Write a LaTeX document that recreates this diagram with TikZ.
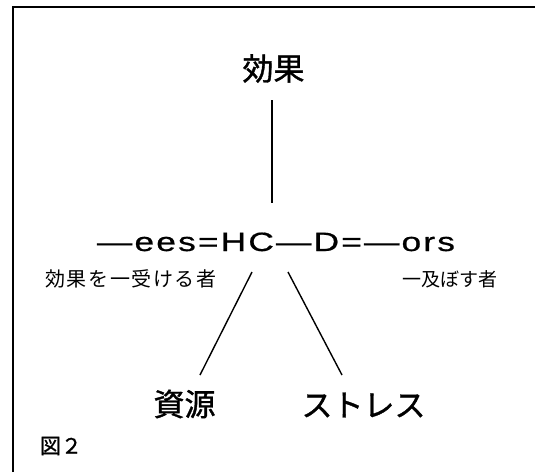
\documentclass[tikz,border=0pt]{standalone}
\usepackage{fontspec}
\setmainfont{Liberation Sans}
\newfontfamily\jp{Noto Sans CJK JP}
\newfontfamily\jpsp[LetterSpace=8]{Noto Sans CJK JP}
\newfontfamily\jpb[FakeBold=1.2]{Noto Sans CJK JP}
\newfontfamily\latinsp[LetterSpace=6,FakeBold=0.6]{Liberation Sans}
\tikzset{
  plain/.style={inner sep=0pt, outer sep=0pt},
  bigjp/.style={plain, font=\jpb\fontsize{31}{31}\selectfont},
  smalljp/.style={plain, font=\jpsp\fontsize{20}{20}\selectfont},
  link/.style={line width=1.4pt},
  frameline/.style={line width=2pt}
}
\begin{document}
\begin{tikzpicture}[x=1pt,y=-1pt]
\useasboundingbox (0,0) rectangle (535,472);
% frame
\draw[frameline] (13,472) -- (13,7) -- (535,7);
% nodes
\node[bigjp] (effect) at (273.5,68.5) {効果};
\node[plain, anchor=base] (formula) at (276,251)
  {\resizebox{358pt}{18.5pt}{\latinsp\fontsize{24}{24}\selectfont —ees=HC—D=—ors}};
\node[smalljp] (lefttxt) at (131,279) {効果を一受ける者};
\node[plain, font=\jp\fontsize{19}{19}\selectfont] (righttxt) at (450,279) {一及ぼす者};
\node[bigjp] (res) at (184.5,404) {資源};
\node[bigjp] (stress) at (363.5,405) {ストレス};
\node[plain, font=\jpb\fontsize{21}{21}\selectfont] (fig) at (61,446) {図２};
% connector ends
\coordinate (vtop) at (272,100);
\coordinate (vbot) at (272,203);
\coordinate (ltop) at (252,272);
\coordinate (lbot) at (200,375);
\coordinate (rtop) at (288,272);
\coordinate (rbot) at (342,375);
\draw[link] (vtop) -- (vbot);
\draw[link] (ltop) -- (lbot);
\draw[link] (rtop) -- (rbot);
\end{tikzpicture}
\end{document}
